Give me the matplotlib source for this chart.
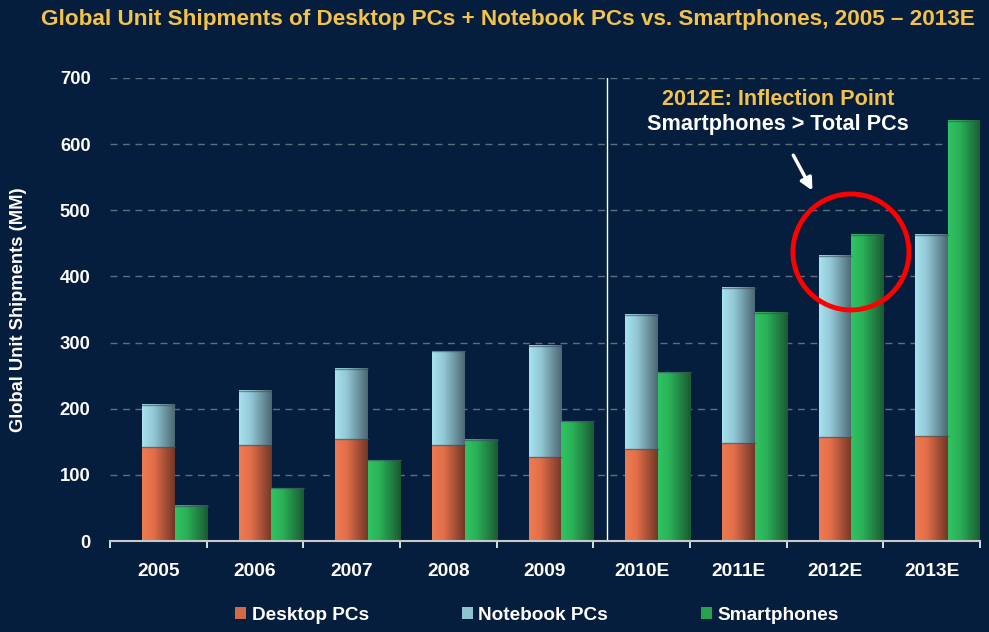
import numpy as np
import matplotlib
matplotlib.use("Agg")
import matplotlib.pyplot as plt
from matplotlib.colors import LinearSegmentedColormap
from matplotlib.patches import Ellipse, Patch

years = ["2005", "2006", "2007", "2008", "2009", "2010E", "2011E", "2012E", "2013E"]
desktop = [142, 145, 154, 145, 127, 139, 148, 157, 159]
notebook = [64, 82, 106, 142, 168, 203, 235, 274, 304]
smartphones = [53, 80, 122, 153, 181, 255, 345, 463, 635]
yticks = [0, 100, 200, 300, 400, 500, 600, 700]

BG = "#061e3e"
TITLE_C = "#f4c24a"
plt.rcParams['font.family'] = ['Liberation Sans', 'DejaVu Sans']

fig = plt.figure(figsize=(9.89, 6.32), dpi=100, facecolor=BG)
ax = fig.add_axes([110/989, 91/632, 870/989, 463/632], facecolor=BG)

bw = 0.341
x = np.arange(len(years))

cm_desk = LinearSegmentedColormap.from_list("d", [(0, "#ee7b52"), (0.35, "#e36f4a"), (1, "#723626")])
cm_note = LinearSegmentedColormap.from_list("n", [(0, "#a9e1ee"), (0.35, "#93c9d6"), (1, "#4b6773")])
cm_smart = LinearSegmentedColormap.from_list("s", [(0, "#2fc463"), (0.35, "#2bb158"), (1, "#1a5a31")])

b1 = ax.bar(x, desktop, bw, color="#e0704a", zorder=2)
b2 = ax.bar(x, notebook, bw, bottom=desktop, color="#93c9d6", zorder=2)
b3 = ax.bar(x + bw, smartphones, bw, color="#2bb158", zorder=2)

grad = np.linspace(0, 1, 256).reshape(1, -1)
for bars, cm in [(b1, cm_desk), (b2, cm_note), (b3, cm_smart)]:
    for p in bars:
        x0, y0, w, h = p.get_x(), p.get_y(), p.get_width(), p.get_height()
        ax.imshow(grad, cmap=cm, extent=(x0, x0 + w, y0, y0 + h), aspect="auto",
                  zorder=3, interpolation="bilinear")
        ax.plot([x0, x0 + w], [y0 + h, y0 + h], color="#3a5060", lw=1.0, zorder=4, alpha=0.6)

ax.set_xlim(-0.5, 8.5)
ax.set_ylim(0, 700)

# grid
for yv in yticks[1:]:
    ax.axhline(yv, color="#5d6d80", lw=1.0, ls=(0, (5, 4)), zorder=1)

for s in ["left", "right", "top"]:
    ax.spines[s].set_visible(False)
ax.spines["bottom"].set_color("#c8c8c8")
ax.spines["bottom"].set_linewidth(1.5)
ax.spines["bottom"].set_zorder(5)

ax.set_yticks(yticks)
ax.set_yticklabels([str(v) for v in yticks], color="white", fontsize=13.3, fontweight="bold")
ax.tick_params(axis="y", length=0, pad=14)

ax.set_xticks(np.arange(-0.5, 9, 1.0))
ax.set_xticklabels([])
ax.tick_params(axis="x", which="major", length=5, color="white", width=1.2, direction="out")
ax.set_xticks(x, minor=True)
ax.set_xticklabels(years, minor=True, color="white", fontsize=13.8, fontweight="bold")
ax.tick_params(axis="x", which="minor", length=0, pad=15.5)

# separator
ax.plot([4.64, 4.64], [0, 700], color="white", lw=1.0, zorder=4)

# annotation
ax.text(6.41, 667, "2012E: Inflection Point", color=TITLE_C, fontsize=15.6, fontweight="bold",
        ha="center", va="center", zorder=6)
ax.text(6.41, 629, "Smartphones > Total PCs", color="white", fontsize=15.6, fontweight="bold",
        ha="center", va="center", zorder=6)
ax.annotate("", xy=(6.78, 526), xytext=(6.555, 587),
            arrowprops=dict(arrowstyle="-|>", color="white", lw=2.5, mutation_scale=18), zorder=6)
ax.add_patch(Ellipse((7.165, 437), 1.2, 175.4, fill=False, edgecolor="#ff0000", lw=3.5, zorder=7))

fig.text(19/989, 1 - 310/632, "Global Unit Shipments (MM)", rotation=90, color="white",
         fontsize=13.2, fontweight="bold", ha="center", va="center")
fig.text(508/989, 1 - 19/632,
         "Global Unit Shipments of Desktop PCs + Notebook PCs vs. Smartphones, 2005 \u2013 2013E",
         color=TITLE_C, fontsize=16.2, fontweight="bold", ha="center", va="center")

handles = [Patch(facecolor="#d26a47", label="Desktop PCs"),
           Patch(facecolor="#8fc3cf", label="Notebook PCs"),
           Patch(facecolor="#25a14f", label="Smartphones")]
leg = fig.legend(handles=handles, loc="center", bbox_to_anchor=(537/989, 1 - 615/632), ncol=3,
                 frameon=False, fontsize=13.7, handlelength=0.58, handleheight=0.58,
                 handletextpad=0.27, columnspacing=4.9)
for t in leg.get_texts():
    t.set_color("white")
    t.set_fontweight("bold")

fig.savefig("out.png", dpi=100, facecolor=BG)
